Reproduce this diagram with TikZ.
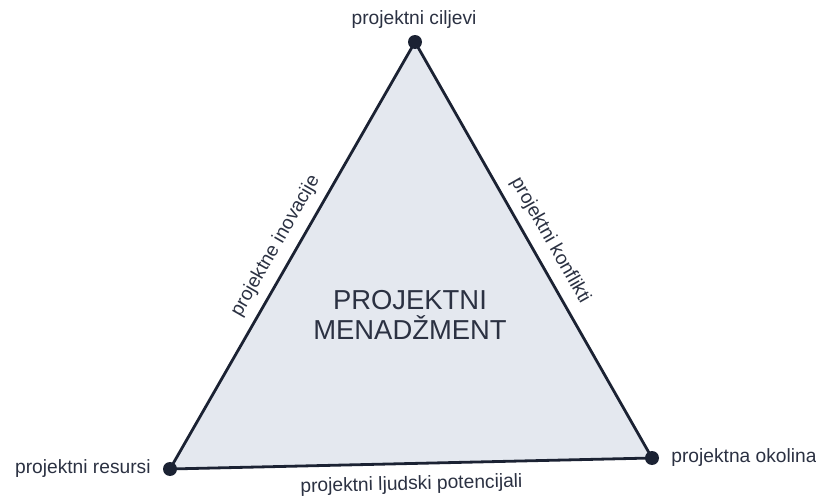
\documentclass[tikz,border=0pt]{standalone}
\usepackage{fontspec}
\setmainfont{Liberation Sans}
\definecolor{rub}{HTML}{1B2233}
\definecolor{ploha}{HTML}{E4E8EF}
\definecolor{tekst}{HTML}{2B3142}
\begin{document}
\begin{tikzpicture}[x=0.5pt,y=-0.5pt,
  oznaka/.style={text=tekst,font=\fontsize{9.6}{11}\selectfont,inner sep=1pt}]
\useasboundingbox (0,0) rectangle (816,498);

\coordinate (ciljevi) at (415,42);
\coordinate (resursi) at (170,469);
\coordinate (okolina) at (652,458);

\filldraw[fill=ploha,draw=rub,line width=1.4pt,line join=round]
    (ciljevi)--(resursi)--(okolina)--cycle;

\fill[rub] (ciljevi) circle (7);
\fill[rub] (resursi) circle (7);
\fill[rub] (okolina) circle (7);

\node[oznaka] (lcilj) at (414,20) {projektni ciljevi};
\node[oznaka,anchor=east] (lres) at (153,469) {projektni resursi};
\node[oznaka,anchor=west] (lokol) at (669,458) {projektna okolina};

\path (resursi) -- (ciljevi)
    node[oznaka,midway,sloped,above=4pt] (linov) {projektne inovacije};
\path (ciljevi) -- (okolina)
    node[oznaka,midway,sloped,above=4pt] (lkonf) {projektni konflikti};
\path (resursi) -- (okolina)
    node[oznaka,midway,sloped,below=5pt] (lljud) {projektni ljudski potencijali};

\node[text=tekst,font=\fontsize{13.7}{15}\selectfont,align=center] (naslov)
    at (410,315) {PROJEKTNI\\MENADŽMENT};
\end{tikzpicture}
\end{document}
